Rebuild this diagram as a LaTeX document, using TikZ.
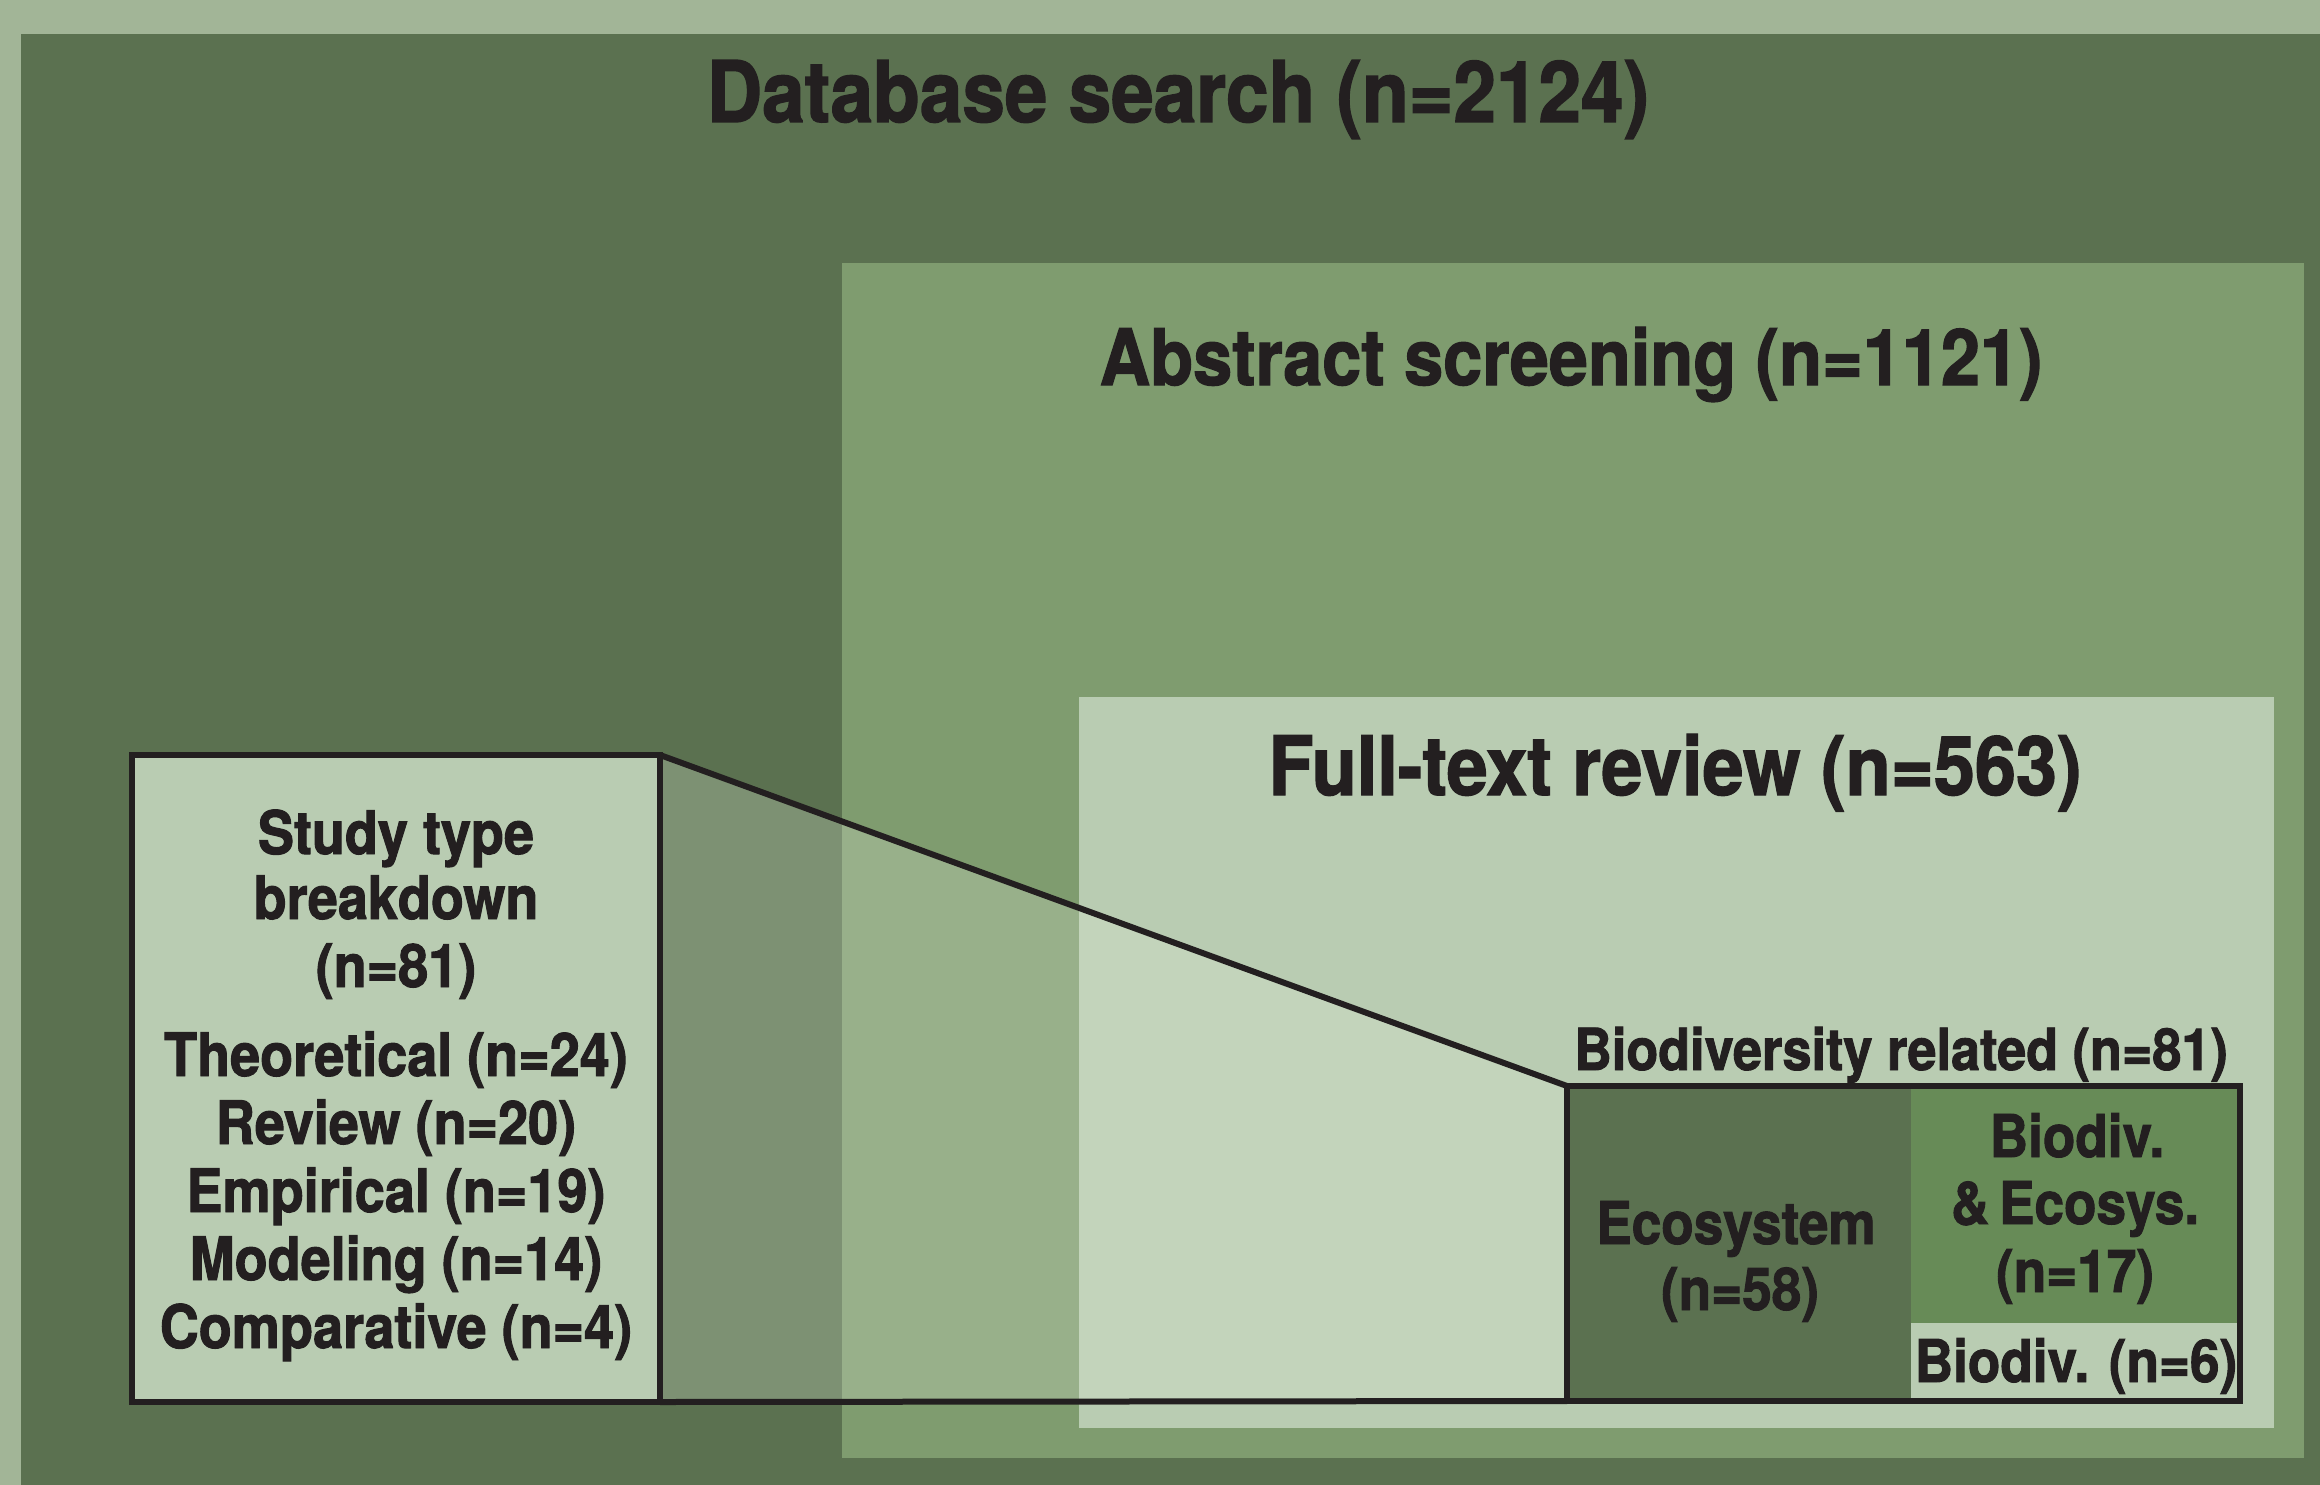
\documentclass[tikz,border=0pt]{standalone}
\usepackage{fontspec}
\setmainfont{TeX Gyre Heros}[FakeStretch=0.9, BoldFeatures={FakeStretch=0.9, FakeBold=1.6}]
\definecolor{outerbg}{HTML}{A2B597}
\definecolor{dbgreen}{HTML}{5B7150}
\definecolor{absgreen}{HTML}{7F9C6F}
\definecolor{ftgreen}{HTML}{B9CCB2}
\definecolor{midgreen}{HTML}{678B57}
\definecolor{haze}{HTML}{E0EDD8}
\definecolor{ink}{HTML}{231F20}
\newcommand\fsz[1]{\fontsize{#1}{#1}\selectfont\bfseries}
\begin{document}
\begin{tikzpicture}[x=1pt,y=-1pt,
  panel/.style={rectangle, anchor=north west, inner sep=0pt, outer sep=0pt, draw=none},
  framed/.style={draw=ink, line width=6pt},
  lbl/.style={anchor=base, inner sep=0pt, outer sep=0pt, text=ink},
  title/.style={lbl, font=\fsz{#1}},
  zoomline/.style={draw=ink, line width=6pt, line join=miter}]
\useasboundingbox[fill=outerbg] (0,0) rectangle (2320,1485);

% nested screening stages
\node[panel, fill=dbgreen, minimum width=2299pt, minimum height=1451pt] (db) at (21,34) {};
\node[panel, fill=absgreen, minimum width=1462pt, minimum height=1195pt] (abs) at (842,263) {};
\node[panel, fill=ftgreen, minimum width=1195pt, minimum height=731pt] (ft) at (1079,697) {};

% boxes linked by the zoom wedge
\node[panel, fill=ftgreen, minimum width=528pt, minimum height=647pt] (types) at (132,755) {};
\node[panel, minimum width=673pt, minimum height=315pt] (bio) at (1567,1086) {};

% zoom wedge between the two boxes
\fill[haze, fill opacity=0.26] (types.north east) -- (bio.north west) -- (bio.south west) -- (types.south east) -- cycle;
\draw[zoomline] (types.north east) -- (bio.north west);
\draw[zoomline] (types.south east) -- (bio.south west);

% cells of the biodiversity box
\node[panel, fill=dbgreen, minimum width=344pt, minimum height=315pt] (eco) at (1567,1086) {};
\node[panel, fill=midgreen, minimum width=329pt, minimum height=237pt] (both) at (1911,1086) {};
\node[panel, fill=ftgreen, minimum width=329pt, minimum height=78pt] (bdv) at (1911,1323) {};

% outlines
\draw[framed] (types.north west) rectangle (types.south east);
\draw[framed] (bio.north west) rectangle (bio.south east);

% stage titles
\node[title=85] (tdb) at (1178,122) {Database search (n=2124)};
\node[title=78] (tabs) at (1571,385) {Abstract screening (n=1121)};
\node[title=82] (tft) at (1675,795) {Full-text review (n=563)};
\node[title=58] (tbio) at (1901,1070) {Biodiversity related (n=81)};

% cell labels
\node[title=59] (eco1) at (1736,1244) {Ecosystem};
\node[title=59] (eco2) at (1740,1310) {(n=58)};
\node[title=59] (both1) at (2077,1157) {Biodiv.};
\node[title=59] (both2) at (2075,1224) {\&\,Ecosys.};
\node[title=59] (both3) at (2075,1292) {(n=17)};
\node[title=59] (bdv1) at (2076,1382) {Biodiv. (n=6)};

% study type breakdown
\node[title=60] (st1) at (396,854) {Study type};
\node[title=60] (st2) at (396,919) {breakdown};
\node[title=60] (st3) at (396,987) {(n=81)};
\node[title=60] (st4) at (396,1076) {Theoretical (n=24)};
\node[title=60] (st5) at (396,1144) {Review (n=20)};
\node[title=60] (st6) at (396,1212) {Empirical (n=19)};
\node[title=60] (st7) at (396,1280) {Modeling (n=14)};
\node[title=60] (st8) at (396,1348) {Comparative (n=4)};
\end{tikzpicture}
\end{document}
